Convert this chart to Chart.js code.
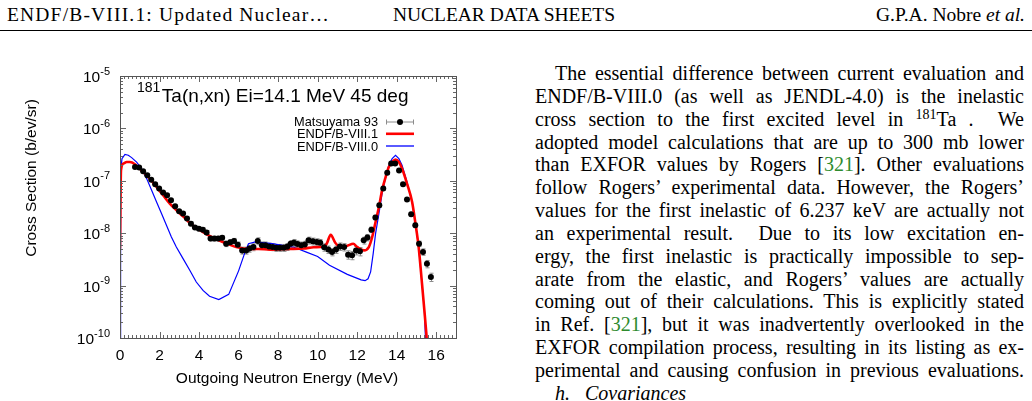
<!DOCTYPE html>
<html><head><meta charset="utf-8">
<script src="https://cdn.jsdelivr.net/npm/chart.js@4.4.1/dist/chart.umd.min.js"></script>
<style>
html,body{margin:0;padding:0;background:#fff;}
body{width:1032px;height:401px;overflow:hidden;position:relative;font-family:"Liberation Serif","DejaVu Serif",serif;color:#000;}
.hd{position:absolute;top:4px;font-size:19.5px;line-height:22px;white-space:nowrap;}
#rule{position:absolute;left:0;top:30px;width:1032px;height:1px;background:#000;}
#col{position:absolute;left:535px;top:62px;width:489px;font-size:20px;}
#col .ln{height:22.85px;line-height:22.85px;text-align:justify;text-align-last:justify;white-space:normal;}
#col .ln.first{text-indent:20px;}
#col sup{font-size:14px;line-height:0;vertical-align:7px;}
.ref{color:#2e8b2e;}
#col .ln.sec{text-align-last:left;padding-left:20px;font-style:italic;}
#cv{position:absolute;left:0;top:0;}
</style>
</head><body>
<span class="hd" id="h1" style="left:7px">ENDF/B-VIII.1: Updated Nuclear…</span>
<span class="hd" id="h2" style="left:393px">NUCLEAR DATA SHEETS</span>
<span class="hd" id="h3" style="right:7px">G.P.A. Nobre <i>et al.</i></span>
<div id="rule"></div>
<div id="col">
<div class="ln first">The essential difference between current evaluation and</div>
<div class="ln">ENDF/B-VIII.0 (as well as JENDL-4.0) is the inelastic</div>
<div class="ln">cross section to the first excited level in <sup>181</sup>Ta .&nbsp; We</div>
<div class="ln">adopted model calculations that are up to 300 mb lower</div>
<div class="ln">than EXFOR values by Rogers [<span class="ref">321</span>]. Other evaluations</div>
<div class="ln">follow Rogers’ experimental data. However, the Rogers’</div>
<div class="ln">values for the first inelastic of 6.237 keV are actually not</div>
<div class="ln">an experimental result.&nbsp; Due to its low excitation en-</div>
<div class="ln">ergy, the first inelastic is practically impossible to sep-</div>
<div class="ln">arate from the elastic, and Rogers’ values are actually</div>
<div class="ln">coming out of their calculations. This is explicitly stated</div>
<div class="ln">in Ref. [<span class="ref">321</span>], but it was inadvertently overlooked in the</div>
<div class="ln">EXFOR compilation process, resulting in its listing as ex-</div>
<div class="ln">perimental and causing confusion in previous evaluations.</div>
<div class="ln sec"><span style="font-style:italic">h.</span>&nbsp;&nbsp;&nbsp;Covariances</div>
</div>
<canvas id="cv" width="510" height="401"></canvas>
<script>
// ---------- data ----------
const expE = [0.76,0.97,1.17,1.38,1.58,1.78,1.98,2.18,2.38,2.58,2.79,2.99,3.19,3.39,3.59,3.79,3.99,4.19,4.38,4.58,4.78,4.97,5.17,5.37,5.58,5.77,5.96,
 6.18,6.38,6.55,6.75,6.97,7.18,7.36,7.54,7.72,7.91,8.09,8.28,8.46,8.63,8.80,8.98,9.17,9.35,9.54,9.75,9.95,10.13,10.33,10.54,10.73,10.93,11.13,11.34,11.54,11.74,11.94,12.14,
 12.33,12.52,12.72,12.92,13.12,13.32,13.52,13.72,13.92,14.12,14.32,14.52,14.73,14.94,15.13,15.33,15.53,15.73];
const expV = [1.83e-7,1.79e-7,1.52e-7,1.27e-7,1.05e-7,8.6e-8,7.1e-8,5.95e-8,5.3e-8,4.25e-8,3.26e-8,2.62e-8,2.37e-8,1.9e-8,1.52e-8,1.28e-8,1.22e-8,1.17e-8,1.03e-8,7.9e-9,7.9e-9,7.9e-9,8.2e-9,6.3e-9,6.7e-9,7.1e-9,6.05e-9,
 4.7e-9,4.7e-9,5.1e-9,5.45e-9,7.1e-9,5.9e-9,5.9e-9,5.6e-9,5.45e-9,5.3e-9,5.3e-9,5.3e-9,5.5e-9,6.3e-9,6.6e-9,6.2e-9,5.9e-9,6.1e-9,7.3e-9,7.0e-9,6.8e-9,6.6e-9,5.4e-9,4.9e-9,4.4e-9,4.9e-9,5.6e-9,5.45e-9,3.9e-9,3.8e-9,4.7e-9,4.5e-9,
 7.3e-9,8.3e-9,1.17e-8,2.0e-8,3.4e-8,7.1e-8,1.43e-7,2.13e-7,2.13e-7,1.58e-7,8.6e-8,4.4e-8,2.3e-8,1.42e-8,6.3e-9,4.4e-9,2.6e-9,1.46e-9];
const expErrPct = [6,6,6,6,6,6,6,6,6,6,7,7,7,7,8,8,8,8,9,10,10,10,10,12,12,12,12,
 15,15,15,15,15,15,15,15,15,15,15,15,15,15,15,15,15,15,15,15,15,15,16,16,16,16,16,16,18,18,18,18,
 15,14,12,10,9,8,7,6,6,6,7,8,9,10,12,14,16,18];

const redE = [0,0.05,0.17,0.34,0.5,0.76,1.0,1.26,1.51,1.85,2.18,2.52,2.86,3.19,3.53,3.86,4.2,4.53,5.2,5.88,6.55,7.0,7.6,8.5,9.3,9.8,10.3,10.45,10.66,10.9,11.2,11.5,11.8,12.0,12.34,12.59,12.76,12.93,13.1,13.26,13.44,13.6,13.77,13.94,14.11,14.27,14.52,14.78,14.95,15.11,15.28,15.40,15.5,15.56];
const redV = [5.1e-9,1.58e-7,2.13e-7,2.28e-7,2.28e-7,2.07e-7,1.71e-7,1.37e-7,1.1e-7,7.6e-8,5.3e-8,3.67e-8,2.73e-8,2.1e-8,1.57e-8,1.26e-8,1.05e-8,8.9e-9,6.8e-9,5.45e-9,5.0e-9,5.0e-9,4.86e-9,5.0e-9,5.1e-9,5.4e-9,5.6e-9,6.2e-9,9.3e-9,6.5e-9,5.4e-9,5.75e-9,6.3e-9,5.45e-9,4.7e-9,5.45e-9,8.45e-9,1.64e-8,3.16e-8,6.6e-8,1.18e-7,1.83e-7,2.28e-7,2.54e-7,2.28e-7,1.71e-7,8.85e-8,3.94e-8,1.52e-8,5.45e-9,1.09e-9,3.38e-10,1.21e-10,6e-11];

const blueE = [0,0.03,0.1,0.25,0.42,0.59,0.84,1.09,1.35,1.6,1.85,2.1,2.35,2.6,2.85,3.19,3.53,3.86,4.2,4.53,5.0,5.5,6.0,6.3,6.5,6.85,7.7,8.8,9.4,10.0,10.6,11.5,12.2,12.4,12.55,12.68,12.81,12.93,13.1,13.26,13.44,13.6,13.77,13.94,14.11,14.27,14.52,14.78,14.95,15.11,15.28,15.40,15.45,15.5];
const blueV = [3e-11,1.5e-7,2.65e-7,3.2e-7,3.07e-7,2.77e-7,2.28e-7,1.71e-7,1.1e-7,6.6e-8,3.94e-8,2.37e-8,1.42e-8,8.46e-9,5.45e-9,3.27e-9,1.96e-9,1.17e-9,8.1e-10,6.25e-10,5.4e-10,6.8e-10,1.91e-9,4.08e-9,6.3e-9,6.85e-9,6.3e-9,5.4e-9,4.4e-9,3.6e-9,2.44e-9,1.64e-9,1.29e-9,1.24e-9,1.35e-9,1.82e-9,4.08e-9,9.8e-9,2.37e-8,5.7e-8,1.18e-7,1.98e-7,2.65e-7,3.07e-7,2.65e-7,1.98e-7,9.5e-8,3.94e-8,1.52e-8,5.45e-9,1.09e-9,3.38e-10,1.1e-10,4e-11];

const xTickLabels = [0,2,4,6,8,10,12,14,16];
const yDecades = [-10,-9,-8,-7,-6,-5];
const seriesNames = ['Matsuyama 93','ENDF/B-VIII.1','ENDF/B-VIII.0'];
const titleIso = '181';
const titleText = 'Ta(n,xn) Ei=14.1 MeV 45 deg';
const xTitle = 'Outgoing Neutron Energy (MeV)';
const yTitle = 'Cross Section (b/ev/sr)';

// ---------- fit text lines ----------
document.querySelectorAll('#col .ln').forEach(el=>{
  let ls=0;
  while(el.scrollHeight>30 && ls>-2){ls-=0.05; el.style.letterSpacing=ls+'px';}
});
// header widths
[['h1',323],['h2',222]].forEach(([id,w])=>{
  const el=document.getElementById(id); const cw=el.getBoundingClientRect().width;
  el.style.letterSpacing=((w-cw)/el.textContent.length)+'px';
});

const SANS = '"Liberation Sans", Arial, Helvetica, sans-serif';
const pts = (xs,ys)=>xs.map((x,i)=>({x:x,y:ys[i]}));

const deco = {
  id:'deco',
  beforeDatasetsDraw(chart){
    const ctx=chart.ctx, xs=chart.scales.x, ys=chart.scales.y, a=chart.chartArea;
    ctx.save();
    ctx.beginPath(); ctx.rect(a.left,a.top,a.right-a.left,a.bottom-a.top); ctx.clip();
    ctx.strokeStyle='#8c8c8c'; ctx.lineWidth=1;
    expE.forEach((e,i)=>{
      const v=expV[i], d=v*expErrPct[i]/100;
      const px=Math.round(xs.getPixelForValue(e))+0.5;
      const y1=ys.getPixelForValue(v-d), y2=ys.getPixelForValue(v+d);
      ctx.beginPath();
      ctx.moveTo(px,y1); ctx.lineTo(px,y2);
      ctx.moveTo(px-2,y1); ctx.lineTo(px+2,y1);
      ctx.moveTo(px-2,y2); ctx.lineTo(px+2,y2);
      ctx.stroke();
    });
    ctx.restore();
  },
  afterDraw(chart){
    const ctx=chart.ctx, xs=chart.scales.x, ys=chart.scales.y, a=chart.chartArea;
    ctx.save();
    ctx.strokeStyle='#666'; ctx.lineWidth=1;
    ctx.beginPath();
    for(let k=0;k<=85;k++){
      const v=k*0.2; if(v>xs.max+1e-9) break;
      const px=Math.round(xs.getPixelForValue(v))+0.5;
      const L=(k%10===0)?6:3;
      ctx.moveTo(px,a.bottom); ctx.lineTo(px,a.bottom-L);
      ctx.moveTo(px,a.top); ctx.lineTo(px,a.top+L);
    }
    for(let d=-10; d<-5; d++){
      for(let m=1;m<=9;m++){
        const v=m*Math.pow(10,d);
        const py=Math.round(ys.getPixelForValue(v))+0.5;
        const L=(m===1)?6:3;
        ctx.moveTo(a.left,py); ctx.lineTo(a.left+L,py);
        ctx.moveTo(a.right,py); ctx.lineTo(a.right-L,py);
      }
    }
    ctx.stroke();
    ctx.strokeStyle='#555';
    ctx.strokeRect(Math.round(a.left)+0.5,Math.round(a.top)+0.5,Math.round(a.right-a.left),Math.round(a.bottom-a.top));
    ctx.fillStyle='#000';
    ctx.font='15.5px '+SANS; ctx.textAlign='center'; ctx.textBaseline='alphabetic';
    xTickLabels.forEach(v=>{ ctx.fillText(String(v), xs.getPixelForValue(v), 359.5); });
    yDecades.forEach(d=>{
      const py=ys.getPixelForValue(Math.pow(10,d));
      ctx.font='11px '+SANS; ctx.textAlign='right';
      const ex=String(d); const ew=ctx.measureText(ex).width;
      ctx.fillText(ex, 110, py-1.5);
      ctx.font='15.5px '+SANS;
      ctx.fillText('10', 110-ew, py+6);
    });
    ctx.font='15.5px '+SANS; ctx.textAlign='center';
    ctx.fillText(xTitle, 287, 383);
    ctx.save(); ctx.translate(36,178); ctx.rotate(-Math.PI/2); ctx.fillText(yTitle,0,0); ctx.restore();
    ctx.textAlign='left';
    ctx.font='14px '+SANS; ctx.fillText(titleIso,137,91.5);
    const iw=ctx.measureText(titleIso).width;
    ctx.font='19px '+SANS; ctx.fillText(titleText,137+iw+1.5,101.5);
    ctx.font='12.8px '+SANS; ctx.textAlign='right';
    const lx=378, sx1=386, sx2=414, base=[126,138.3,150.5];
    seriesNames.forEach((n,i)=>ctx.fillText(n,lx,base[i]));
    let y=base[0]-4.5;
    ctx.strokeStyle='#8c8c8c'; ctx.lineWidth=1; ctx.beginPath();
    ctx.moveTo(sx1,y+0.5); ctx.lineTo(sx2,y+0.5);
    ctx.moveTo(sx1+0.5,y-2); ctx.lineTo(sx1+0.5,y+3);
    ctx.moveTo(sx2-0.5,y-2); ctx.lineTo(sx2-0.5,y+3);
    ctx.stroke();
    ctx.fillStyle='#000'; ctx.beginPath(); ctx.arc((sx1+sx2)/2,y+0.5,3,0,Math.PI*2); ctx.fill();
    ctx.strokeStyle='#ff0000'; ctx.lineWidth=2.6; ctx.beginPath();
    ctx.moveTo(sx1,base[1]-4.5); ctx.lineTo(sx2,base[1]-4.5); ctx.stroke();
    ctx.strokeStyle='#0000ff'; ctx.lineWidth=1.3; ctx.beginPath();
    ctx.moveTo(sx1,base[2]-4.5); ctx.lineTo(sx2,base[2]-4.5); ctx.stroke();
    ctx.restore();
  }
};

new Chart(document.getElementById('cv'), {
  type:'scatter',
  data:{datasets:[
    {label:seriesNames[0], data:pts(expE,expV), showLine:false, pointRadius:3, pointBackgroundColor:'#000', pointBorderWidth:0, order:0},
    {label:seriesNames[1], data:pts(redE,redV), showLine:true, borderColor:'#ff0000', borderWidth:2.6, pointRadius:0, cubicInterpolationMode:'monotone', order:1},
    {label:seriesNames[2], data:pts(blueE,blueV), showLine:true, borderColor:'#0000ff', borderWidth:1.2, pointRadius:0, tension:0, order:2}
  ]},
  options:{
    responsive:false, animation:false, devicePixelRatio:1,
    layout:{padding:{left:120,top:76,right:54,bottom:63}},
    plugins:{legend:{display:false},tooltip:{enabled:false}},
    scales:{
      x:{type:'linear',min:0,max:17,display:false},
      y:{type:'logarithmic',min:1e-10,max:1e-5,display:false}
    }
  },
  plugins:[deco]
});
</script>
</body></html>
